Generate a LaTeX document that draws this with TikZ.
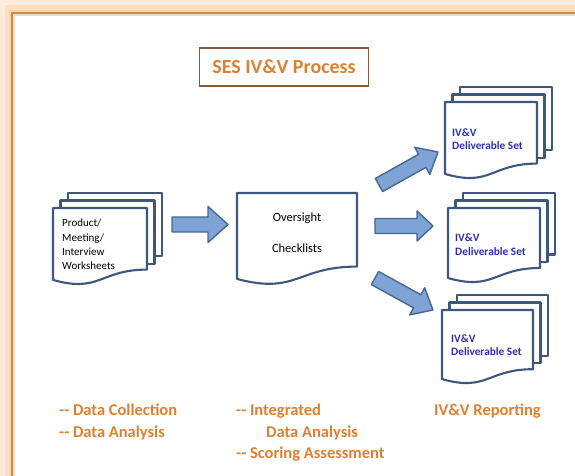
\documentclass[tikz,border=0pt]{standalone}
\usepackage{fontspec}
\setmainfont{Carlito}
\usepackage{tikz}

\definecolor{frameorange}{RGB}{212,136,70}
\definecolor{glowpeach}{RGB}{251,213,178}
\definecolor{labelorange}{RGB}{221,128,50}
\definecolor{titleframe}{RGB}{128,92,58}
\definecolor{docblue}{RGB}{62,88,125}
\definecolor{arrowfill}{RGB}{126,163,212}
\definecolor{arrowline}{RGB}{68,104,148}
\definecolor{setblue}{RGB}{48,48,168}

% one page with a wavy bottom: x, y (top left), width, height
\newcommand{\docpage}[4]{%
  \draw[docline] (#1,#2) -- (#1+#3,#2) -- (#1+#3,#2+0.8*#4)
    .. controls (#1+0.5*#3,#2+0.8*#4) and (#1+0.5*#3,#2+1.107*#4) .. (#1,#2+0.934*#4) -- cycle;}
% three pages stacked
\newcommand{\docstack}[4]{%
  \draw[docline] (#1+15,#2-15) rectangle ++(#3,0.82*#4);
  \draw[docline] (#1+7.5,#2-7.5) rectangle ++(#3,0.82*#4);
  \docpage{#1}{#2}{#3}{#4}}
% block arrow: tail, angle, length, half head width, head length
\newcommand{\blockarrow}[5]{%
  \draw[fatarrow, shift={(#1)}, rotate=#2] (0,-7.5) -- (#3-#5,-7.5) -- (#3-#5,-#4)
    -- (#3,0) -- (#3-#5,#4) -- (#3-#5,7.5) -- (0,7.5) -- cycle;}

\begin{document}
\begin{tikzpicture}[
            x = 1pt, y = -1pt, % pixel coordinates, y runs down
            docline/.style = {draw = docblue, line width = 2.1pt, fill = white, line join = round},
            fatarrow/.style = {draw = arrowline, line width = 1.4pt, fill = arrowfill, line join = round},
            titlebox/.style = {draw = titleframe, line width = 1.3pt, minimum width = 169pt,
                minimum height = 38pt, inner sep = 0pt, text = labelorange,
                font = \fontsize{20}{24}\selectfont\bfseries},
            sheettext/.style = {inner sep = 0pt, align = left, font = \fontsize{11}{14.3}\selectfont},
            settext/.style = {inner sep = 0pt, align = left, anchor = west, text = setblue,
                font = \fontsize{11.3}{13.5}\selectfont\bfseries},
            phase/.style = {inner sep = 0pt, align = left, anchor = north west, text = labelorange,
                font = \fontsize{16.5}{21.5}\selectfont\bfseries},
            glow/.style = {glowpeach, opacity = #1}
        ]

        \useasboundingbox (0,0) rectangle (575,476);
        \clip (0,0) rectangle (575,476);

        % outer frame with glow
        \draw[glow = 0.45, line width = 14pt] (5,6) rectangle (647,491);
        \draw[glow = 0.6, line width = 7pt] (8,9) rectangle (644,488);
        \draw[glow = 0.8, line width = 6pt] (12,13) rectangle (640,484);
        \draw[frameorange, line width = 2.4pt] (12,13) rectangle (640,484);

        \node[titlebox] (title) at (284,67) {SES IV\&V Process};

        % documents
        \docstack{53}{208}{94}{77}
        \docpage{237}{193}{120}{92}
        \docstack{445}{102}{92}{77}
        \docstack{448}{208}{92}{75}
        \docstack{442}{310}{91}{74}

        \node[sheettext, anchor = north west] (sheets) at (62,219) {Product/\\Meeting/\\Interview\\Worksheets};
        \node[sheettext, align = center, font = \fontsize{12.5}{15}\selectfont] (checks) at (297,232.5) {Oversight\\[16pt]Checklists};
        \node[settext] (set1) at (452,139) {IV\&V\\Deliverable Set};
        \node[settext] (set2) at (455,244.5) {IV\&V\\Deliverable Set};
        \node[settext] (set3) at (451,345) {IV\&V\\Deliverable Set};

        % arrows
        \coordinate (in) at (172,224.5);
        \coordinate (outup) at (379,185);
        \coordinate (outmid) at (375,226);
        \coordinate (outdown) at (375,278);
        \blockarrow{in}{0}{56}{18}{20}
        \blockarrow{outup}{29.2}{67.6}{15.5}{18}
        \blockarrow{outmid}{0}{58}{15}{16}
        \blockarrow{outdown}{-28.9}{66.2}{15.5}{18}

        % phases
        \node[phase] (collect) at (59,404) {-{}- Data Collection\\-{}- Data Analysis};
        \node[phase] (assess) at (236,404) {-{}- Integrated\\\hspace*{30pt}Data Analysis\\-{}- Scoring Assessment};
        \node[phase] (report) at (434,404) {IV\&V Reporting};

\end{tikzpicture}
\end{document}
